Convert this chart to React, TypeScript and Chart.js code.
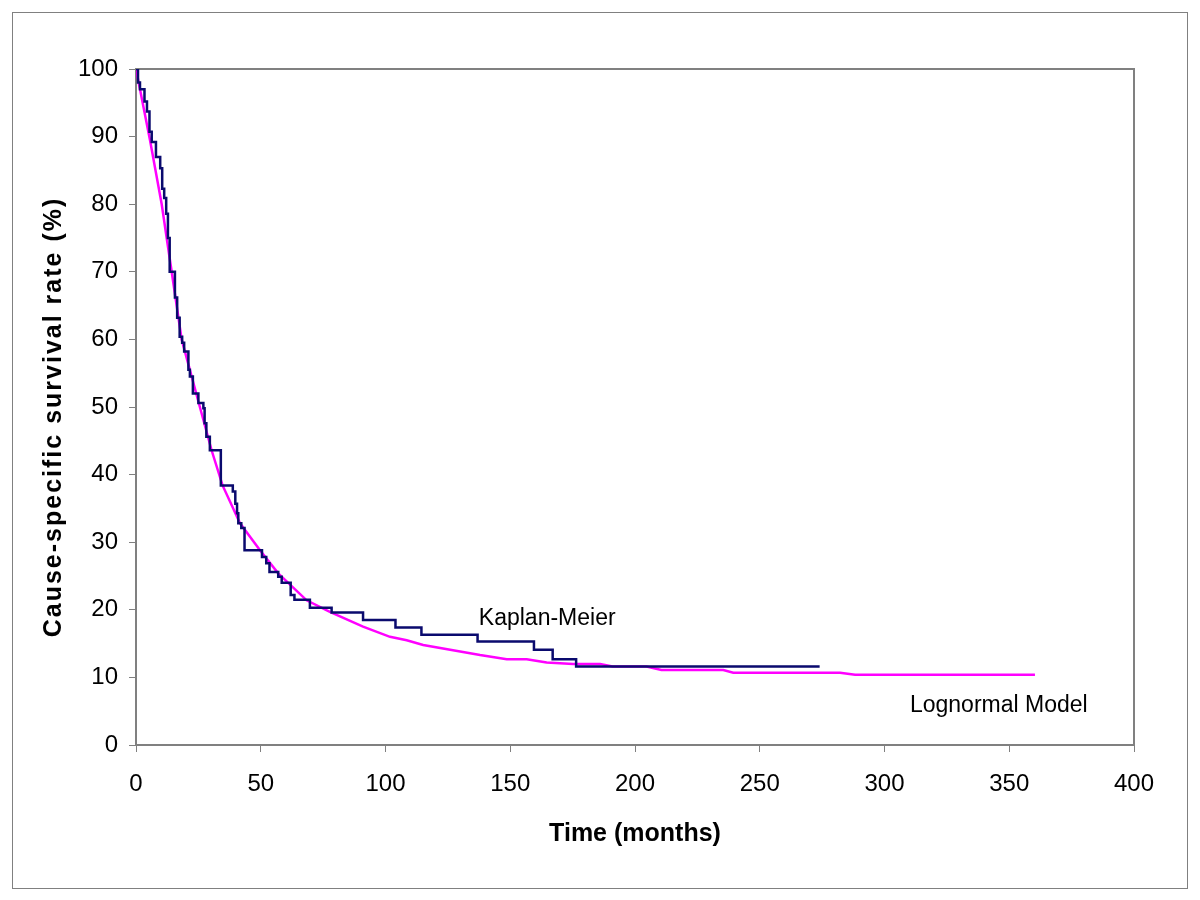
import React, { useEffect, useRef } from "react";
import { Chart, registerables } from "chart.js";

Chart.register(...registerables);

// Kaplan-Meier estimate (event time in months, survival %)
const kmTimes = [
  0, 0.8, 1.6, 3.4, 4.4, 5.4, 6.3, 8.0, 9.7, 10.5, 11.3, 12.1, 12.8, 13.5, 15.6, 16.5,
  17.5, 18.5, 19.3, 21.0, 21.6, 22.8, 25.0, 27.0, 27.5, 28.2, 29.6, 34.0, 38.8,
  39.8, 40.5, 41.0, 42.2, 43.5, 50.5, 52.2, 53.5, 57.0, 58.4, 62.0, 63.5, 69.7,
  78.4, 91.0, 104.0, 114.4, 136.9, 159.5, 167.0, 176.4, 274.0,
];
const kmSurvival = [
  100, 98.0, 97.0, 95.2, 93.7, 90.7, 89.2, 87.0, 85.3, 82.3, 80.9, 78.6, 75.0, 70.0, 66.2,
  63.2, 60.4, 59.5, 58.2, 55.5, 54.5, 52.0, 50.6, 49.8, 47.6, 45.6, 43.6, 38.4, 37.5,
  35.7, 34.3, 32.8, 32.1, 28.8, 27.8, 26.9, 25.6, 24.9, 24.0, 22.2, 21.5, 20.3,
  19.6, 18.5, 17.4, 16.3, 15.3, 14.1, 12.7, 11.6, 11.6,
];

// Lognormal model fit (months, survival %)
const lnTimes = [
  0, 5.6, 10.3, 14.3, 18.3, 25.6, 30.3, 34.7, 41.7, 49.7, 57.0, 68.4, 77.7, 91.0,
  101.8, 108.5, 115.1, 137.9, 148.6, 156.6, 164.6, 175.2, 186.0, 191.0, 204.6,
  210.6, 235.4, 239.4, 282.2, 288.2, 360.3,
];
const lnSurvival = [
  100, 89.5, 80.0, 70.0, 60.0, 50.0, 43.6, 38.4, 32.8, 28.8, 25.4, 21.4, 19.7, 17.5,
  16.0, 15.5, 14.8, 13.3, 12.7, 12.7, 12.2, 12.0, 12.0, 11.6, 11.6,
  11.1, 11.1, 10.7, 10.7, 10.4, 10.4,
];

// Text labels placed in the plot (anchor in data units)
const noteLabels = ["Kaplan-Meier", "Lognormal Model"];
const noteTimes = [137.4, 310.2];
const noteValues = [18.7, 5.8];

const xTitle = "Time (months)";
const yTitle = "Cause-specific survival rate (%)";

const FONT = '"Liberation Sans", Arial, sans-serif';
const GRAY = "#808080";

export default function App() {
  const ref = useRef<HTMLCanvasElement | null>(null);

  useEffect(() => {
    const canvas = ref.current;
    if (!canvas) return;

    const kmData = kmTimes.map((t, i) => ({ x: t, y: kmSurvival[i] }));
    const lnData = lnTimes.map((t, i) => ({ x: t, y: lnSurvival[i] }));

    const decor = {
      id: "decor",
      beforeDraw(chart: any) {
        const ctx = chart.ctx;
        ctx.save();
        ctx.fillStyle = "#ffffff";
        ctx.fillRect(0, 0, chart.width, chart.height);
        ctx.strokeStyle = GRAY;
        ctx.lineWidth = 1;
        ctx.strokeRect(12.5, 12.5, 1175, 876);
        ctx.restore();
        const ys = chart.scales.y;
        if (ys && !ys.__patched) {
          const orig = ys.drawTitle.bind(ys);
          ys.drawTitle = function () {
            const c = this.ctx;
            c.save();
            c.translate(0, 10);
            c.letterSpacing = "2px";
            orig();
            c.restore();
          };
          ys.__patched = true;
        }
      },
      beforeDatasetsDraw(chart: any) {
        const ctx = chart.ctx;
        const { left, top, right, bottom } = chart.chartArea;
        ctx.save();
        ctx.strokeStyle = GRAY;
        ctx.lineWidth = 2;
        ctx.beginPath();
        ctx.moveTo(left, top);
        ctx.lineTo(right, top);
        ctx.lineTo(right, bottom);
        ctx.stroke();
        ctx.restore();
      },
      afterDraw(chart: any) {
        const ctx = chart.ctx;
        const xs = chart.scales.x;
        const ys = chart.scales.y;
        ctx.save();
        ctx.fillStyle = "#000000";
        ctx.font = `23px ${FONT}`;
        ctx.textAlign = "left";
        ctx.textBaseline = "middle";
        noteLabels.forEach((label, i) => {
          ctx.fillText(label, xs.getPixelForValue(noteTimes[i]), ys.getPixelForValue(noteValues[i]));
        });
        ctx.restore();
      },
    };

    const chart = new Chart(canvas, {
      type: "scatter",
      data: {
        datasets: [
          {
            label: "Kaplan-Meier",
            data: kmData,
            showLine: true,
            stepped: "before",
            borderColor: "#0a0a6e",
            backgroundColor: "#0a0a6e",
            borderWidth: 2.5,
            pointRadius: 0,
            fill: false,
          },
          {
            label: "Lognormal Model",
            data: lnData,
            showLine: true,
            borderColor: "#ff00ff",
            backgroundColor: "#ff00ff",
            borderWidth: 2.5,
            pointRadius: 0,
            tension: 0,
            fill: false,
          },
        ],
      },
      options: {
        responsive: false,
        animation: false,
        events: [],
        layout: { padding: { left: 0, top: 69, right: 66, bottom: 0 } },
        plugins: {
          legend: { display: false },
          tooltip: { enabled: false },
        },
        scales: {
          x: {
            type: "linear",
            min: 0,
            max: 400,
            afterFit(scale: any) {
              scale.height = 155;
            },
            ticks: {
              stepSize: 50,
              color: "#000000",
              font: { family: FONT, size: 24 },
              padding: 18,
              maxRotation: 0,
            },
            grid: {
              display: true,
              drawOnChartArea: false,
              drawTicks: true,
              tickLength: 7,
              color: GRAY,
            },
            border: { display: true, color: GRAY, width: 2 },
            title: {
              display: true,
              text: xTitle,
              color: "#000000",
              font: { family: FONT, size: 25, weight: "bold" },
              padding: { top: 0, bottom: 51 },
            },
          },
          y: {
            type: "linear",
            min: 0,
            max: 100,
            afterFit(scale: any) {
              scale.width = 136;
            },
            ticks: {
              stepSize: 10,
              color: "#000000",
              font: { family: FONT, size: 24 },
              padding: 11,
            },
            grid: {
              display: true,
              drawOnChartArea: false,
              drawTicks: true,
              tickLength: 7,
              color: GRAY,
            },
            border: { display: true, color: GRAY, width: 2 },
            title: {
              display: true,
              text: yTitle,
              color: "#000000",
              font: { family: FONT, size: 25, weight: "bold" },
              padding: { top: 39, bottom: 0 },
            },
          },
        },
      },
      plugins: [decor],
    });

    return () => {
      chart.destroy();
    };
  }, []);

  return (
    <div style={{ position: "absolute", left: 0, top: 0, width: 1200, height: 900, background: "#fff" }}>
      <canvas ref={ref} width={1200} height={900} style={{ display: "block", width: 1200, height: 900 }} />
    </div>
  );
}
